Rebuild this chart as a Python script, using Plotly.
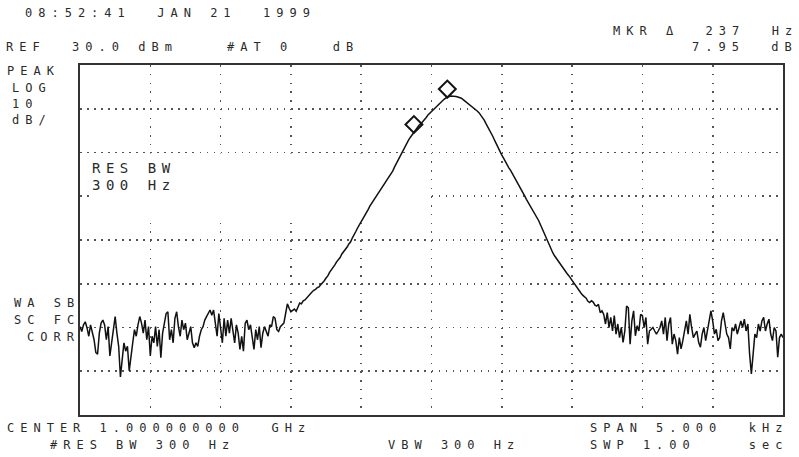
import plotly.graph_objects as go

# ---------------- data ----------------
sweep_start_hz = -2500.0      # offset from CENTER 1.000000000 GHz
sweep_step_hz = 12.5          # 401-point sweep over SPAN 5.000 kHz
ref_level_dbm = 30.0
db_per_div = 10.0

noise_left_dbm = [
    -29.8, -30.9, -29.4, -28.7, -30.1, -32.0, -29.4, -31.3, -32.8, -35.7,
    -36.1, -31.3, -29.0, -28.3, -29.4, -32.8, -29.8, -36.5, -33.5, -29.8,
    -27.5, -31.3, -34.3, -41.3, -37.2, -33.5, -35.4, -34.3, -39.9, -37.2,
    -33.5, -30.5, -32.0, -29.4, -27.5, -29.0, -31.3, -28.3, -32.8, -29.8,
    -36.5, -32.0, -33.5, -29.8, -34.3, -30.5, -36.9, -31.3, -29.0, -26.8,
    -26.4, -32.8, -30.5, -33.5, -27.9, -26.4, -29.8, -32.0, -28.3, -30.5,
    -29.0, -32.8, -31.3, -29.8, -33.5, -34.6, -33.5, -34.3, -32.0, -30.5,
    -29.8, -28.3, -27.5, -26.8, -26.0, -27.2, -26.0, -29.0, -32.0, -26.8,
    -30.5, -33.5, -27.9, -32.0, -28.3, -31.3, -27.9, -30.5, -33.5, -29.4,
    -31.3, -35.0, -32.0, -35.4, -29.0, -28.3, -30.5, -29.4, -32.8, -35.0,
    -30.5, -32.8, -29.8, -34.6, -31.3, -29.8, -30.9, -32.0, -29.4, -29.8,
    -27.5, -27.9, -30.5, -30.9, -29.8, -29.4, -29.0, -26.8,
]

response_dbm = [
    -24.6, -25.6, -26.4, -26.1, -25.8, -26.3, -25.5, -24.4, -24.6, -23.9,
    -23.7, -23.2, -22.9, -22.4, -21.9, -21.5, -21.3, -20.9, -20.7, -20.2,
    -19.8, -19.3, -18.7, -18.2, -17.4, -16.9, -16.2, -15.7, -15.0, -14.6,
    -14.0, -13.2, -12.7, -12.0, -11.6, -10.9, -10.4, -9.5, -8.9, -8.0,
    -7.2, -6.3, -5.8, -5.1, -4.5, -3.8, -3.0, -2.2, -1.6, -0.8,
    -0.1, 0.5, 1.0, 1.5, 2.2, 2.8, 3.4, 3.8, 4.4, 5.1,
    5.8, 6.7, 7.5, 8.2, 9.0, 9.9, 10.6, 11.5, 12.2, 12.9,
    13.5, 14.1, 14.6, 15.2, 15.8, 16.3, 16.6, 17.0, 17.6, 18.0,
    18.6, 19.0, 19.4, 19.7, 20.2, 20.7, 21.0, 21.4, 21.8, 22.1,
    22.4, 22.7, 22.8, 22.9, 22.9, 22.9, 22.8, 22.7, 22.6, 22.4,
    22.1, 21.8, 21.5, 21.2, 20.9, 20.6, 20.3, 19.9, 19.5, 19.1,
    18.6, 18.0, 17.4, 16.6, 15.9, 15.2, 14.4, 13.6, 12.7, 11.8,
    11.0, 10.1, 9.4, 8.7, 7.9, 7.2, 6.5, 5.9, 5.2, 4.6,
    3.8, 3.0, 2.3, 1.6, 0.8, 0.1, -0.7, -1.4, -2.0, -2.7,
    -3.3, -4.0, -4.8, -5.6, -6.5, -7.4, -8.5, -9.5, -10.4, -11.3,
    -12.1, -12.9, -13.6, -14.2, -14.8, -15.3, -15.9, -16.5, -17.0, -17.6,
    -18.1, -18.7, -19.3, -19.8, -20.4, -21.0, -21.6, -22.1, -22.6, -23.0,
    -23.3, -24.0, -24.3, -23.9, -24.2, -24.9, -25.1, -24.7,
]

noise_right_dbm = [
    -26.6, -26.2, -27.0, -29.2, -26.6, -30.0, -27.7, -30.8, -27.3, -31.5,
    -29.2, -32.3, -30.0, -33.4, -30.8, -25.1, -25.5, -33.8, -28.5, -26.2,
    -31.9, -29.6, -30.8, -27.0, -27.3, -30.0, -27.7, -33.8, -30.8, -30.4,
    -30.0, -30.8, -31.5, -30.8, -30.0, -28.5, -31.5, -27.7,
    -33.0, -29.2, -27.7, -33.8, -31.5, -33.0, -36.1, -32.3, -34.9, -33.0,
    -30.8, -28.5, -31.5, -27.0, -30.0, -32.3, -31.5, -30.8, -33.4,
    -34.5, -31.5, -30.0, -33.0, -30.8, -27.7, -26.2, -28.5, -31.5, -30.4,
    -33.0, -32.3, -28.5, -26.6, -29.2, -31.5, -32.3, -34.9, -30.0, -30.8,
    -29.2, -31.5, -30.0, -28.5, -30.0, -28.1, -30.8, -29.2, -36.1, -40.6,
    -36.1, -31.5, -32.3, -29.2, -30.8, -28.5, -27.7, -30.8, -29.2, -28.1,
    -31.5, -33.0, -30.0, -30.8, -36.8, -32.3, -31.5, -32.3,
]

marker_index = [209, 190]           # sweep points of the two markers (237 Hz apart)

NB = "\u00a0"
header_texts = {
    "time": f"08:52:41{NB*2}JAN 21{NB*2}1999",
    "mkr1": f"MKR \u0394{NB*2}237{NB*2}Hz",
    "mkr2": f"7.95{NB*2}dB",
    "ref": f"REF{NB*2}30.0 dBm",
    "att": f"#AT 0{NB*3}dB",
}
side_texts = ["PEAK", "LOG", "10", "dB/"]
corr_texts = ["WA SB", "SC FC", "CORR"]
rbw_texts = ["RES BW", "300 Hz"]
footer_texts = {
    "center": f"CENTER 1.000000000{NB*2}GHz",
    "rbw": "#RES BW 300 Hz",
    "vbw": "VBW 300 Hz",
    "span": f"SPAN 5.000{NB*2}kHz",
    "swp": f"SWP 1.00{NB*4}sec",
}

# ---------------- figure ----------------
level_dbm = noise_left_dbm + response_dbm + noise_right_dbm
marker_freq = [sweep_start_hz + i * sweep_step_hz for i in marker_index]
marker_level = [level_dbm[i] for i in marker_index]

W, H = 799, 457
L, R, T, B = 80, 783, 65, 415
INK = "#2a2a2a"
MONO = "DejaVu Sans Mono"
DIAMOND_LIFT_DB = 1.8

fig = go.Figure()
fig.add_trace(go.Scatter(
    x0=sweep_start_hz, dx=sweep_step_hz, y=level_dbm,
    mode="lines", line=dict(color="#111111", width=1.5),
    hoverinfo="skip",
))
fig.add_trace(go.Scatter(
    x=marker_freq, y=[v + DIAMOND_LIFT_DB for v in marker_level],
    mode="markers",
    marker=dict(symbol="diamond-open", size=13, color="#111111",
                line=dict(color="#111111", width=2)),
    hoverinfo="skip",
))

x_lo = sweep_start_hz
x_hi = sweep_start_hz + (len(level_dbm) - 1) * sweep_step_hz
y_hi = ref_level_dbm
y_lo = ref_level_dbm - 8 * db_per_div

fig.update_xaxes(range=[x_lo, x_hi], tick0=x_lo, dtick=(x_hi - x_lo) / 10,
                 showgrid=True, gridcolor="#555555", gridwidth=1.6,
                 griddash="1.6px,7.15px", showticklabels=False, ticks="",
                 zeroline=False, showline=True, mirror=True,
                 linecolor="#333333", linewidth=2, fixedrange=True)
fig.update_yaxes(range=[y_lo, y_hi], tick0=y_lo, dtick=db_per_div,
                 showgrid=True, gridcolor="#555555", gridwidth=1.6,
                 griddash="1.6px,5.43px", showticklabels=False, ticks="",
                 zeroline=False, showline=True, mirror=True,
                 linecolor="#333333", linewidth=2, fixedrange=True)

# graticule blanked behind the RES BW readout
fig.add_shape(type="rect", layer="between", xref="x", yref="y",
              x0=-2430, x1=-25, y0=-4.5, y1=9.8,
              fillcolor="white", line=dict(width=0))


def px(x, y):
    return (x - L) / (R - L), (B - y) / (B - T)


def label(text, x, y, anchor="left", size=12, ls=6.0):
    xp, yp = px(x, y)
    fig.add_annotation(
        x=xp, y=yp, xref="paper", yref="paper", xanchor=anchor, yanchor="middle",
        text=f'<span style="letter-spacing:{ls}px">{text}</span>',
        showarrow=False, borderpad=0,
        font=dict(family=MONO, size=size, color=INK),
    )


label(header_texts["time"], 24, 13)
label(header_texts["mkr1"], 799, 31, "right")
label(header_texts["mkr2"], 799, 47, "right")
label(header_texts["ref"], 5, 47)
label(header_texts["att"], 226, 47)
for t, (x, y) in zip(side_texts, [(6, 71), (11, 88), (11, 104), (11, 120)]):
    label(t, x, y)
for t, y in zip(corr_texts, [303, 320, 337]):
    label(t, 81, y, "right")
for t, y in zip(rbw_texts, [168, 185]):
    label(t, 91, y, size=14, ls=5.5)
label(footer_texts["center"], 6, 428)
label(footer_texts["rbw"], 49, 445)
label(footer_texts["vbw"], 387, 445)
label(footer_texts["span"], 589, 428)
label(footer_texts["swp"], 589, 445)

fig.update_layout(
    width=W, height=H,
    margin=dict(l=L, r=W - R, t=T, b=H - B, pad=0),
    plot_bgcolor="white", paper_bgcolor="white",
    showlegend=False,
)

fig.write_html("out.html",
               config={"displayModeBar": False, "staticPlot": True},
               post_script="document.body.style.margin='0';"
                           "document.body.style.overflow='hidden';")
